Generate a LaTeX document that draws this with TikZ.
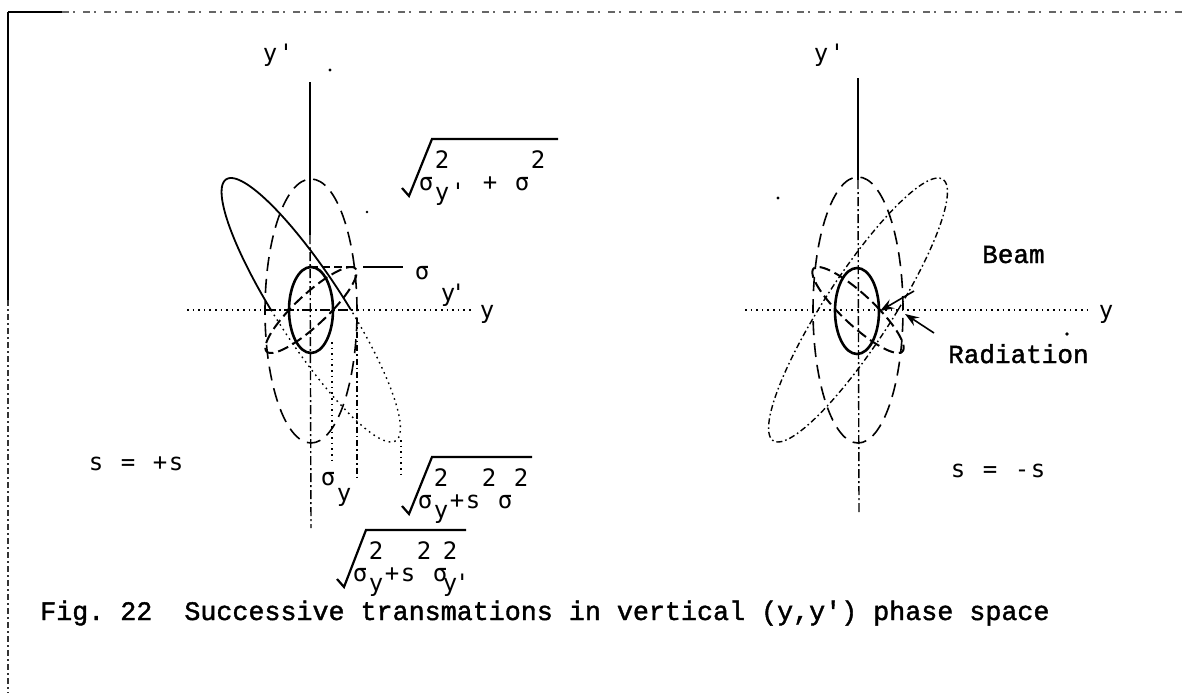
\documentclass[tikz,border=0pt]{standalone}
\usepackage{fontspec}
\newfontfamily\tw{DejaVu Sans Mono}
\newfontfamily\cour[FakeBold=1.5]{Liberation Mono}
\usetikzlibrary{arrows.meta}
\newcommand\TC[1]{\makebox[16pt][c]{#1}}
\newcommand\TSup[1]{\makebox[16pt][c]{\raisebox{22pt}{#1}}}
\newcommand\TSub[1]{\makebox[16pt][c]{\raisebox{-10pt}{#1}}}
\newcommand\TSS[2]{\makebox[16pt][c]{\rlap{\raisebox{22pt}{#1}}\raisebox{-10pt}{#2}}}
\newcommand\pr{\textquotesingle}
\begin{document}
\begin{tikzpicture}[x=1pt,y=-1pt,
  lab/.style={font=\tw\fontsize{24}{28}\selectfont, inner sep=0pt, anchor=base west},
  ctext/.style={font=\cour\fontsize{26}{30}\selectfont, inner sep=0pt, anchor=base west},
  captext/.style={font=\cour\fontsize{26.7}{30}\selectfont, inner sep=0pt, anchor=base west},
  axisl/.style={line width=1.5pt},
  axisdd/.style={line width=1.4pt, dash pattern=on 9pt off 3pt on 2pt off 3pt},
  heavydd/.style={line width=2pt, dash pattern=on 10pt off 3pt on 2pt off 3pt},
  beam/.style={line width=2.6pt},
  dashell/.style={line width=1.6pt, dash pattern=on 14pt off 8pt},
  shear/.style={line width=2pt, dash pattern=on 11pt off 5pt},
  solidt/.style={line width=1.8pt},
  dotl/.style={line width=1.4pt, dash pattern=on 1.6pt off 4pt},
  ddot/.style={line width=1.4pt, dash pattern=on 6pt off 3pt on 1.6pt off 3pt},
  rad/.style={line width=2.2pt, line join=miter},
  arr/.style={line width=1.6pt, -{Stealth[length=14pt,width=10pt,inset=5pt]}},
  speck/.style={fill=black, draw=none}
]
\useasboundingbox[fill=white] (0,0) rectangle (1185,693);

% ---------- frame ----------
\coordinate (FTL) at (8,12);
\coordinate (FTa) at (62,12);
\coordinate (FTR) at (1185,12);
\coordinate (FLa) at (8,300);
\coordinate (FBL) at (8,693);
\draw[line width=2pt] (FTL) -- (FTa);
\draw[line width=1.3pt, black!60, dash pattern=on 7pt off 4pt on 2pt off 8pt] (FTa) -- (FTR);
\draw[line width=1.6pt] (FTL) -- (FLa);
\draw[line width=1.2pt, black!80, dash pattern=on 6pt off 3pt on 2pt off 3pt] (FLa) -- (FBL);

% ---------- left diagram ----------
\coordinate (LTop) at (310,82);
\coordinate (LMid) at (310,235);
\coordinate (LBot) at (311,528);
\draw[axisl] (LTop) -- (LMid);
\draw[axisdd] (LMid) -- (LBot);
\coordinate (LHl) at (187,310);
\coordinate (LHa) at (266,310);
\coordinate (LHb) at (357,310);
\coordinate (LHr) at (472,310);
\draw[dotl] (LHl) -- (LHa);
\draw[heavydd] (LHa) -- (LHb);
\draw[dotl] (LHb) -- (LHr);

% ellipses
\draw[dashell] (311,311) ellipse [x radius=46pt, y radius=132pt];
\draw[solidt] plot[domain=0:180, samples=80, variable=\t] ({311+40*cos(\t)-80*sin(\t)},{310-132*sin(\t)});
\draw[dotl] plot[domain=180:360, samples=80, variable=\t] ({311+40*cos(\t)-80*sin(\t)},{310-132*sin(\t)});
\draw[shear] plot[domain=0:360, samples=90, variable=\t] ({311+22*cos(\t)+40*sin(\t)},{310-43*sin(\t)});
\draw[beam] (311,310) ellipse [x radius=22pt, y radius=43pt];

% guides
\coordinate (Gs1) at (310,267);
\coordinate (Gs2) at (357,267);
\coordinate (Gs3) at (363,267);
\coordinate (Gs4) at (403,267);
\draw[line width=1.5pt, dash pattern=on 8pt off 4pt] (Gs1) -- (Gs2);
\draw[line width=1.6pt] (Gs3) -- (Gs4);
\coordinate (Gy1) at (332,342);
\coordinate (Gy2) at (332,462);
\draw[dotl] (Gy1) -- (Gy2);
\coordinate (Gw1) at (357,318);
\coordinate (Gw2) at (357,480);
\draw[ddot] (Gw1) -- (Gw2);
\coordinate (Gl1) at (401,440);
\coordinate (Gl2) at (401,474);
\draw[dotl] (Gl1) -- (Gl2);

% labels left
\node[lab] (LYp) at (262,62) {\TC{y}\TC{\pr}};
\node[lab] (LYx) at (479,318) {\TC{y}};
\node[lab] (LSyp) at (414,279) {\TC{σ}\hspace{10pt}\raisebox{-22pt}{\TC{y}\kern-5pt\pr}};
\node[lab] (LSy) at (320,485) {\TC{σ}\raisebox{-16pt}{\TC{y}}};
\node[lab] (LSplus) at (88,470) {\TC{s}\TC{ }\TC{=}\TC{ }\TC{+}\TC{s}};

% sqrt(sigma_y'^2 + sigma^2)
\node[lab] (R1) at (418,190) {\TC{σ}\TSS{2}{y}\TSub{\pr}\TC{ }\TC{+}\TC{ }\TC{σ}\TSup{2}};
\draw[rad] (402,188) -- (409,196) -- (432,139) -- (558,139);
% sqrt(sigma_y^2 + s^2 sigma^2)
\node[lab] (R2) at (417,508) {\TC{σ}\TSS{2}{y}\TC{+}\TC{s}\TSup{2}\TC{σ}\TSup{2}};
\draw[rad] (402,506) -- (409,514) -- (432,457) -- (532,457);
% sqrt(sigma_y^2 + s^2 sigma_y'^2)
\node[lab] (R3) at (352,581) {\TC{σ}\TSS{2}{y}\TC{+}\TC{s}\TSup{2}\TC{σ}\TSS{2}{y\kern-2pt\pr}};
\draw[rad] (337,579) -- (344,587) -- (366,530) -- (466,530);

% ---------- right diagram ----------
\coordinate (RTop) at (858,78);
\coordinate (RMid) at (858,180);
\coordinate (RBot) at (859,512);
\draw[axisl] (RTop) -- (RMid);
\draw[axisdd] (RMid) -- (RBot);
\coordinate (RHl) at (745,310);
\coordinate (RHr) at (1092,310);
\draw[dotl] (RHl) -- (RHr);

\draw[dashell] (858,310) ellipse [x radius=45pt, y radius=133pt];
\draw[ddot] plot[domain=0:360, samples=120, variable=\t] ({858+40*cos(\t)+80*sin(\t)},{310-132*sin(\t)});
\draw[shear] plot[domain=0:360, samples=90, variable=\t] ({858+22*cos(\t)-40*sin(\t)},{310-43*sin(\t)});
\draw[beam] (857,311) ellipse [x radius=22pt, y radius=43pt];

\coordinate (BeamTail) at (914,291);
\coordinate (BeamTip) at (880,311);
\draw[arr] (BeamTail) -- (BeamTip);
\coordinate (RadTail) at (934,333);
\coordinate (RadTip) at (905,314);
\draw[arr] (RadTail) -- (RadTip);

\node[lab] (RYp) at (813,62) {\TC{y}\TC{\pr}};
\node[lab] (RYx) at (1098,318) {\TC{y}};
\node[ctext] (Beam) at (982,263) {Beam};
\node[ctext] (Rad) at (948,363) {Radiation};
\node[lab] (RSminus) at (950,477) {\TC{s}\TC{ }\TC{=}\TC{ }\TC{-}\TC{s}};

% specks
\fill[speck] (330,70) circle (1.6pt);
\fill[speck] (367,212) circle (1.4pt);
\fill[speck] (778,198) circle (1.6pt);
\fill[speck] (1067,334) circle (1.8pt);

% ---------- caption ----------
\node[captext] (Cap) at (40,620) {Fig.\ 22\ \ Successive transmations in vertical (y,y\pr) phase space};
\end{tikzpicture}
\end{document}
